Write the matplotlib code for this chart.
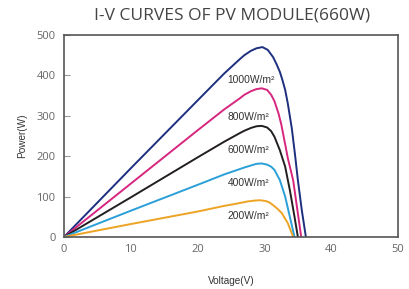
import matplotlib
matplotlib.use("Agg")
import matplotlib.pyplot as plt

# ------------------------------
# DATA
# ------------------------------
v_1000 = [0, 10, 20, 24, 26.3, 27, 28, 28.8, 29.7, 30.5, 31.3, 31.8, 32.3, 32.7, 33.1, 33.5, 34.1, 34.6, 35.0, 35.6, 36.2]
p_1000 = [0, 170, 338, 405, 440, 450, 461, 467, 470, 463, 445, 428, 409, 388, 364, 330, 268, 200, 141, 65, 0]

v_800 = [0, 10, 20, 24, 26.3, 27, 28, 28.8, 29.6, 30.4, 31.0, 31.5, 32.1, 32.5, 32.8, 33.5, 34.3, 34.9, 35.5]
p_800 = [0, 132, 264, 316, 343, 352, 361, 366, 368, 364, 352, 336, 306, 280, 255, 195, 140, 70, 0]

v_600 = [0, 10, 20, 24, 26.3, 27, 28, 28.8, 29.6, 30.4, 31.0, 31.5, 32.3, 33.1, 33.8, 34.5, 35.0]
p_600 = [0, 98, 197, 236, 257, 263, 270, 274, 275, 271, 262, 248, 215, 174, 116, 50, 0]

v_400 = [0, 10, 20, 24, 26.3, 27, 28, 28.8, 29.6, 30.4, 31.0, 31.5, 32.3, 33.1, 33.8, 34.5]
p_400 = [0, 65, 129, 155, 168, 172, 177, 181, 182, 179, 174, 166, 141, 100, 50, 0]

v_200 = [0, 10, 20, 24, 26.3, 27.5, 28.5, 29.3, 30.2, 30.8, 31.5, 32.0, 32.6, 33.5, 34.3]
p_200 = [0, 32, 63, 77, 84, 88, 90, 91, 89, 85, 76, 69, 59, 34, 0]

labels = ["1000W/m²", "800W/m²", "600W/m²", "400W/m²", "200W/m²"]
label_y = [389, 297, 215, 134, 52]
colors = ["#1d2f7e", "#d6277f", "#231f20", "#2a9fd8", "#eda324"]

x_ticks = [0, 10, 20, 30, 40, 50]
y_ticks = [0, 100, 200, 300, 400, 500]

# ------------------------------
# PLOT
# ------------------------------
fig = plt.figure(figsize=(4.10, 2.89), dpi=100)
ax = fig.add_axes([0.156, 0.180, 0.815, 0.699])

series = [(v_1000, p_1000), (v_800, p_800), (v_600, p_600), (v_400, p_400), (v_200, p_200)]
for (v, p), c in zip(series, colors):
    ax.plot(v, p, color=c, lw=1.4, solid_joinstyle="round", solid_capstyle="round")

for txt, y in zip(labels, label_y):
    ax.text(24.5, y, txt, fontsize=7.4, color="#333333", family="Liberation Sans", va="center")

ax.set_xlim(0, 50)
ax.set_ylim(0, 500)
ax.set_xticks(x_ticks)
ax.set_yticks(y_ticks)
for s in ax.spines.values():
    s.set_color("#555555")
    s.set_linewidth(1.2)
ax.tick_params(axis="y", direction="in", length=4, color="#999999", labelsize=8,
               labelcolor="#666666", pad=6)
ax.tick_params(axis="x", length=0, labelsize=8, labelcolor="#666666", pad=5)
for lab in ax.get_xticklabels() + ax.get_yticklabels():
    lab.set_family("Open Sans")

ax.set_xlabel("Voltage(V)", fontsize=7.2, family="Liberation Sans", color="#333333", labelpad=15)
ax.set_ylabel("Power(W)", fontsize=7.2, family="Liberation Sans", color="#333333", labelpad=7)

fig.text(0.566, 0.945, "I-V CURVES OF PV MODULE(660W)", fontsize=12.5, family="Open Sans",
         color="#444444", ha="center", va="center")

fig.savefig("out.png", dpi=100)
